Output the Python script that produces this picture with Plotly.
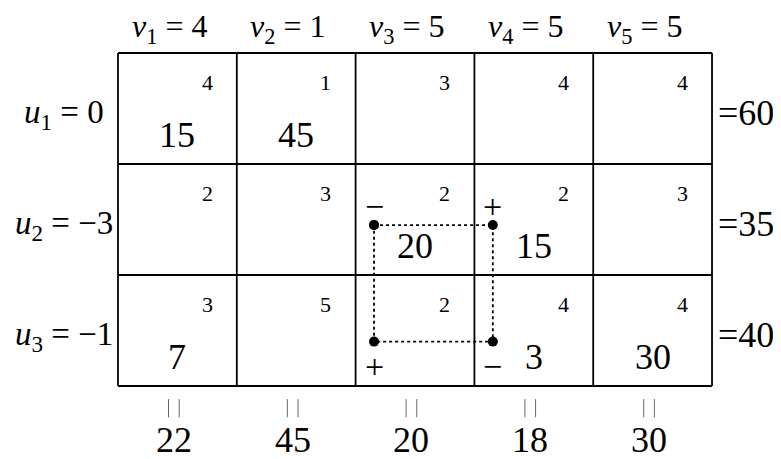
import plotly.graph_objects as go

# transportation table: potentials, costs, allocations
u_vals = ["0", "−3", "−1"]
v_vals = ["4", "1", "5", "5", "5"]
supply = [60, 35, 40]
demand = [22, 45, 20, 18, 30]
costs = [
    [4, 1, 3, 4, 4],
    [2, 3, 2, 2, 3],
    [3, 5, 2, 4, 4],
]
alloc = [
    [15, 45, None, None, None],
    [None, None, 20, 15, None],
    [7, None, None, 3, 30],
]
# improvement cycle: (row, col, sign)
cycle = [(1, 2, "−"), (1, 3, "+"), (2, 3, "−"), (2, 2, "+")]

n_rows, n_cols = len(supply), len(demand)
serif = "Liberation Serif"

fig = go.Figure()
ann = []

# grid
shapes = []
for i in range(n_rows + 1):
    shapes.append(dict(type="line", xref="x", yref="y", x0=0, x1=n_cols, y0=i, y1=i,
                       line=dict(color="black", width=1.8)))
for j in range(n_cols + 1):
    shapes.append(dict(type="line", xref="x", yref="y", x0=j, x1=j, y0=0, y1=n_rows,
                       line=dict(color="black", width=1.8)))

# header v_j
for j, v in enumerate(v_vals):
    ann.append(dict(x=j + 0.43, y=-0.22, text=f"<i>v</i><sub>{j+1}</sub> = {v}",
                    font=dict(size=32, family=serif, color="black"),
                    xanchor="center", yanchor="middle", showarrow=False))

# row labels u_i and supply
for i, u in enumerate(u_vals):
    ann.append(dict(x=-0.4545, y=i + 0.55, text=f"<i>u</i><sub>{i+1}</sub> = {u}",
                    font=dict(size=33, family=serif, color="black"),
                    xanchor="center", yanchor="middle", showarrow=False))
    ann.append(dict(x=n_cols + 0.03, y=i + 0.54, text=f"={supply[i]}",
                    font=dict(size=36, family=serif, color="black"),
                    xanchor="left", yanchor="middle", showarrow=False))

# cell contents
for i in range(n_rows):
    for j in range(n_cols):
        ann.append(dict(x=j + 0.75, y=i + 0.27, text=str(costs[i][j]),
                        font=dict(size=22, family=serif, color="black"),
                        xanchor="center", yanchor="middle", showarrow=False))
        if alloc[i][j] is not None:
            ann.append(dict(x=j + 0.5, y=i + 0.735, text=str(alloc[i][j]),
                            font=dict(size=36, family=serif, color="black"),
                            xanchor="center", yanchor="middle", showarrow=False))

# demand row
for j, d in enumerate(demand):
    ann.append(dict(x=j + 0.47, y=n_rows + 0.49, text=str(d),
                    font=dict(size=36, family=serif, color="black"),
                    xanchor="center", yanchor="middle", showarrow=False))

fig.add_trace(go.Scatter(
    x=[j + 0.47 + dx for j in range(n_cols) for dx in (-0.045, 0.045)],
    y=[n_rows + 0.2] * (2 * n_cols),
    mode="markers", hoverinfo="skip",
    marker=dict(symbol="line-ns", size=13, line=dict(color="#666", width=1)),
))

# cycle path
top_row = min(c[0] for c in cycle)
cx = [c[1] + 0.155 for c in cycle] + [cycle[0][1] + 0.155]
cy = [c[0] + (0.55 if c[0] == top_row else 0.6) for c in cycle]
cy = cy + [cy[0]]
fig.add_trace(go.Scatter(x=cx, y=cy, mode="lines+markers", hoverinfo="skip",
                         line=dict(color="black", width=1.8, dash="dot"),
                         marker=dict(color="black", size=10)))
for r, c, s in cycle:
    dy = -0.17 if r == top_row else 0.22
    base = 0.55 if r == top_row else 0.6
    ann.append(dict(x=c + 0.155, y=r + base + dy, text=s,
                    font=dict(size=34, family=serif, color="black"),
                    xanchor="center", yanchor="middle", showarrow=False))

# page body has an 8px margin, so shift the axes to compensate
fig.update_layout(
    width=781, height=459,
    margin=dict(l=0, r=0, t=0, b=0),
    plot_bgcolor="white", paper_bgcolor="white",
    showlegend=False,
    shapes=shapes, annotations=ann,
    xaxis=dict(range=[-0.926, 5.648], visible=False, fixedrange=True),
    yaxis=dict(range=[3.7297, -0.4054], visible=False, fixedrange=True),
)

fig.write_html("out.html")
